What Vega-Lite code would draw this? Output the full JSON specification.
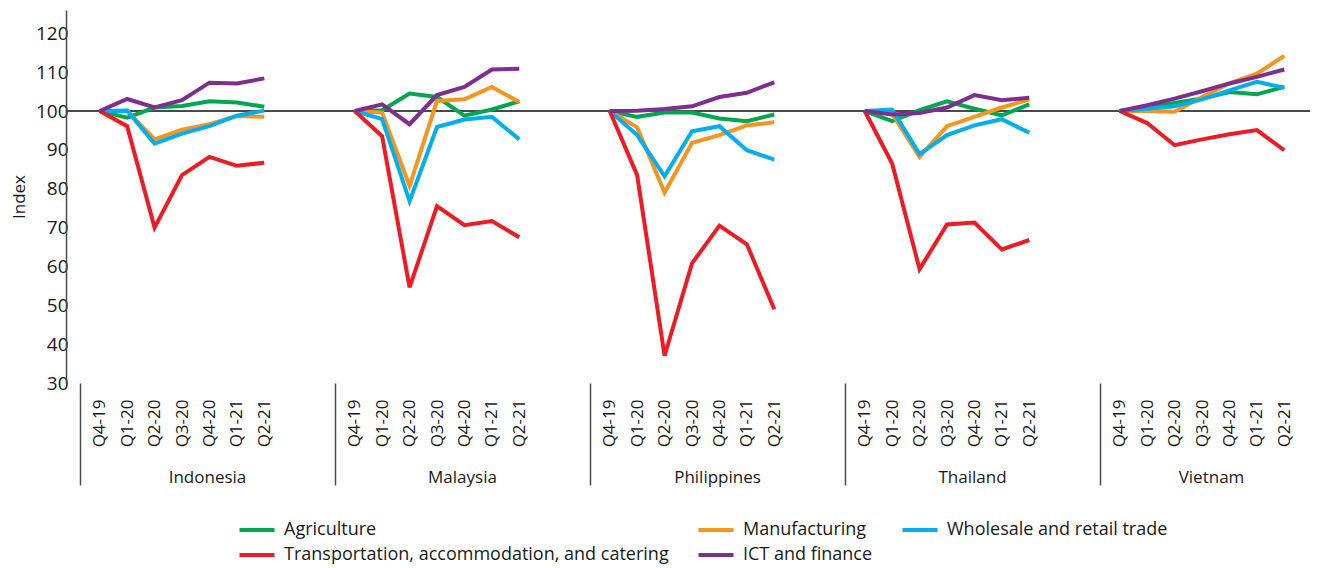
{
  "$schema": "https://vega.github.io/schema/vega-lite/v6.json",
  "padding": {"left": 10, "top": 10, "right": 0, "bottom": 0},
  "background": "white",
  "data": {"values": [
    {"country":"Indonesia","quarter":"Q4-19","sector":"Agriculture","value":100},
    {"country":"Indonesia","quarter":"Q1-20","sector":"Agriculture","value":98.3},
    {"country":"Indonesia","quarter":"Q2-20","sector":"Agriculture","value":100.9},
    {"country":"Indonesia","quarter":"Q3-20","sector":"Agriculture","value":101.3},
    {"country":"Indonesia","quarter":"Q4-20","sector":"Agriculture","value":102.5},
    {"country":"Indonesia","quarter":"Q1-21","sector":"Agriculture","value":102.2},
    {"country":"Indonesia","quarter":"Q2-21","sector":"Agriculture","value":101.1},
    {"country":"Indonesia","quarter":"Q4-19","sector":"Manufacturing","value":100},
    {"country":"Indonesia","quarter":"Q1-20","sector":"Manufacturing","value":100.0},
    {"country":"Indonesia","quarter":"Q2-20","sector":"Manufacturing","value":92.7},
    {"country":"Indonesia","quarter":"Q3-20","sector":"Manufacturing","value":95.2},
    {"country":"Indonesia","quarter":"Q4-20","sector":"Manufacturing","value":96.6},
    {"country":"Indonesia","quarter":"Q1-21","sector":"Manufacturing","value":98.7},
    {"country":"Indonesia","quarter":"Q2-21","sector":"Manufacturing","value":98.5},
    {"country":"Indonesia","quarter":"Q4-19","sector":"Wholesale and retail trade","value":100},
    {"country":"Indonesia","quarter":"Q1-20","sector":"Wholesale and retail trade","value":100.1},
    {"country":"Indonesia","quarter":"Q2-20","sector":"Wholesale and retail trade","value":91.6},
    {"country":"Indonesia","quarter":"Q3-20","sector":"Wholesale and retail trade","value":94.2},
    {"country":"Indonesia","quarter":"Q4-20","sector":"Wholesale and retail trade","value":96.1},
    {"country":"Indonesia","quarter":"Q1-21","sector":"Wholesale and retail trade","value":98.8},
    {"country":"Indonesia","quarter":"Q2-21","sector":"Wholesale and retail trade","value":100.1},
    {"country":"Indonesia","quarter":"Q4-19","sector":"Transportation, accommodation, and catering","value":100},
    {"country":"Indonesia","quarter":"Q1-20","sector":"Transportation, accommodation, and catering","value":96.1},
    {"country":"Indonesia","quarter":"Q2-20","sector":"Transportation, accommodation, and catering","value":70.0},
    {"country":"Indonesia","quarter":"Q3-20","sector":"Transportation, accommodation, and catering","value":83.5},
    {"country":"Indonesia","quarter":"Q4-20","sector":"Transportation, accommodation, and catering","value":88.2},
    {"country":"Indonesia","quarter":"Q1-21","sector":"Transportation, accommodation, and catering","value":85.9},
    {"country":"Indonesia","quarter":"Q2-21","sector":"Transportation, accommodation, and catering","value":86.7},
    {"country":"Indonesia","quarter":"Q4-19","sector":"ICT and finance","value":100},
    {"country":"Indonesia","quarter":"Q1-20","sector":"ICT and finance","value":103.1},
    {"country":"Indonesia","quarter":"Q2-20","sector":"ICT and finance","value":100.9},
    {"country":"Indonesia","quarter":"Q3-20","sector":"ICT and finance","value":102.8},
    {"country":"Indonesia","quarter":"Q4-20","sector":"ICT and finance","value":107.3},
    {"country":"Indonesia","quarter":"Q1-21","sector":"ICT and finance","value":107.1},
    {"country":"Indonesia","quarter":"Q2-21","sector":"ICT and finance","value":108.4},

    {"country":"Malaysia","quarter":"Q4-19","sector":"Agriculture","value":100},
    {"country":"Malaysia","quarter":"Q1-20","sector":"Agriculture","value":100.2},
    {"country":"Malaysia","quarter":"Q2-20","sector":"Agriculture","value":104.5},
    {"country":"Malaysia","quarter":"Q3-20","sector":"Agriculture","value":103.6},
    {"country":"Malaysia","quarter":"Q4-20","sector":"Agriculture","value":98.8},
    {"country":"Malaysia","quarter":"Q1-21","sector":"Agriculture","value":100.4},
    {"country":"Malaysia","quarter":"Q2-21","sector":"Agriculture","value":102.5},
    {"country":"Malaysia","quarter":"Q4-19","sector":"Manufacturing","value":100},
    {"country":"Malaysia","quarter":"Q1-20","sector":"Manufacturing","value":99.6},
    {"country":"Malaysia","quarter":"Q2-20","sector":"Manufacturing","value":80.7},
    {"country":"Malaysia","quarter":"Q3-20","sector":"Manufacturing","value":102.6},
    {"country":"Malaysia","quarter":"Q4-20","sector":"Manufacturing","value":103.0},
    {"country":"Malaysia","quarter":"Q1-21","sector":"Manufacturing","value":106.2},
    {"country":"Malaysia","quarter":"Q2-21","sector":"Manufacturing","value":102.3},
    {"country":"Malaysia","quarter":"Q4-19","sector":"Wholesale and retail trade","value":100},
    {"country":"Malaysia","quarter":"Q1-20","sector":"Wholesale and retail trade","value":97.9},
    {"country":"Malaysia","quarter":"Q2-20","sector":"Wholesale and retail trade","value":76.8},
    {"country":"Malaysia","quarter":"Q3-20","sector":"Wholesale and retail trade","value":95.9},
    {"country":"Malaysia","quarter":"Q4-20","sector":"Wholesale and retail trade","value":97.8},
    {"country":"Malaysia","quarter":"Q1-21","sector":"Wholesale and retail trade","value":98.5},
    {"country":"Malaysia","quarter":"Q2-21","sector":"Wholesale and retail trade","value":92.7},
    {"country":"Malaysia","quarter":"Q4-19","sector":"Transportation, accommodation, and catering","value":100},
    {"country":"Malaysia","quarter":"Q1-20","sector":"Transportation, accommodation, and catering","value":93.5},
    {"country":"Malaysia","quarter":"Q2-20","sector":"Transportation, accommodation, and catering","value":54.6},
    {"country":"Malaysia","quarter":"Q3-20","sector":"Transportation, accommodation, and catering","value":75.5},
    {"country":"Malaysia","quarter":"Q4-20","sector":"Transportation, accommodation, and catering","value":70.6},
    {"country":"Malaysia","quarter":"Q1-21","sector":"Transportation, accommodation, and catering","value":71.7},
    {"country":"Malaysia","quarter":"Q2-21","sector":"Transportation, accommodation, and catering","value":67.5},
    {"country":"Malaysia","quarter":"Q4-19","sector":"ICT and finance","value":100},
    {"country":"Malaysia","quarter":"Q1-20","sector":"ICT and finance","value":101.7},
    {"country":"Malaysia","quarter":"Q2-20","sector":"ICT and finance","value":96.6},
    {"country":"Malaysia","quarter":"Q3-20","sector":"ICT and finance","value":104.1},
    {"country":"Malaysia","quarter":"Q4-20","sector":"ICT and finance","value":106.2},
    {"country":"Malaysia","quarter":"Q1-21","sector":"ICT and finance","value":110.7},
    {"country":"Malaysia","quarter":"Q2-21","sector":"ICT and finance","value":110.9},

    {"country":"Philippines","quarter":"Q4-19","sector":"Agriculture","value":100},
    {"country":"Philippines","quarter":"Q1-20","sector":"Agriculture","value":98.5},
    {"country":"Philippines","quarter":"Q2-20","sector":"Agriculture","value":99.6},
    {"country":"Philippines","quarter":"Q3-20","sector":"Agriculture","value":99.6},
    {"country":"Philippines","quarter":"Q4-20","sector":"Agriculture","value":98.1},
    {"country":"Philippines","quarter":"Q1-21","sector":"Agriculture","value":97.4},
    {"country":"Philippines","quarter":"Q2-21","sector":"Agriculture","value":99.1},
    {"country":"Philippines","quarter":"Q4-19","sector":"Manufacturing","value":100},
    {"country":"Philippines","quarter":"Q1-20","sector":"Manufacturing","value":95.8},
    {"country":"Philippines","quarter":"Q2-20","sector":"Manufacturing","value":79.0},
    {"country":"Philippines","quarter":"Q3-20","sector":"Manufacturing","value":91.8},
    {"country":"Philippines","quarter":"Q4-20","sector":"Manufacturing","value":93.8},
    {"country":"Philippines","quarter":"Q1-21","sector":"Manufacturing","value":96.3},
    {"country":"Philippines","quarter":"Q2-21","sector":"Manufacturing","value":97.1},
    {"country":"Philippines","quarter":"Q4-19","sector":"Wholesale and retail trade","value":100},
    {"country":"Philippines","quarter":"Q1-20","sector":"Wholesale and retail trade","value":93.8},
    {"country":"Philippines","quarter":"Q2-20","sector":"Wholesale and retail trade","value":83.2},
    {"country":"Philippines","quarter":"Q3-20","sector":"Wholesale and retail trade","value":94.8},
    {"country":"Philippines","quarter":"Q4-20","sector":"Wholesale and retail trade","value":96.1},
    {"country":"Philippines","quarter":"Q1-21","sector":"Wholesale and retail trade","value":89.9},
    {"country":"Philippines","quarter":"Q2-21","sector":"Wholesale and retail trade","value":87.5},
    {"country":"Philippines","quarter":"Q4-19","sector":"Transportation, accommodation, and catering","value":100},
    {"country":"Philippines","quarter":"Q1-20","sector":"Transportation, accommodation, and catering","value":83.5},
    {"country":"Philippines","quarter":"Q2-20","sector":"Transportation, accommodation, and catering","value":37.0},
    {"country":"Philippines","quarter":"Q3-20","sector":"Transportation, accommodation, and catering","value":60.8},
    {"country":"Philippines","quarter":"Q4-20","sector":"Transportation, accommodation, and catering","value":70.5},
    {"country":"Philippines","quarter":"Q1-21","sector":"Transportation, accommodation, and catering","value":65.7},
    {"country":"Philippines","quarter":"Q2-21","sector":"Transportation, accommodation, and catering","value":49.0},
    {"country":"Philippines","quarter":"Q4-19","sector":"ICT and finance","value":100},
    {"country":"Philippines","quarter":"Q1-20","sector":"ICT and finance","value":100.1},
    {"country":"Philippines","quarter":"Q2-20","sector":"ICT and finance","value":100.5},
    {"country":"Philippines","quarter":"Q3-20","sector":"ICT and finance","value":101.2},
    {"country":"Philippines","quarter":"Q4-20","sector":"ICT and finance","value":103.6},
    {"country":"Philippines","quarter":"Q1-21","sector":"ICT and finance","value":104.7},
    {"country":"Philippines","quarter":"Q2-21","sector":"ICT and finance","value":107.4},

    {"country":"Thailand","quarter":"Q4-19","sector":"Agriculture","value":100},
    {"country":"Thailand","quarter":"Q1-20","sector":"Agriculture","value":97.4},
    {"country":"Thailand","quarter":"Q2-20","sector":"Agriculture","value":100.2},
    {"country":"Thailand","quarter":"Q3-20","sector":"Agriculture","value":102.5},
    {"country":"Thailand","quarter":"Q4-20","sector":"Agriculture","value":100.6},
    {"country":"Thailand","quarter":"Q1-21","sector":"Agriculture","value":98.9},
    {"country":"Thailand","quarter":"Q2-21","sector":"Agriculture","value":101.7},
    {"country":"Thailand","quarter":"Q4-19","sector":"Manufacturing","value":100},
    {"country":"Thailand","quarter":"Q1-20","sector":"Manufacturing","value":99.3},
    {"country":"Thailand","quarter":"Q2-20","sector":"Manufacturing","value":88.2},
    {"country":"Thailand","quarter":"Q3-20","sector":"Manufacturing","value":96.1},
    {"country":"Thailand","quarter":"Q4-20","sector":"Manufacturing","value":98.5},
    {"country":"Thailand","quarter":"Q1-21","sector":"Manufacturing","value":100.9},
    {"country":"Thailand","quarter":"Q2-21","sector":"Manufacturing","value":103.0},
    {"country":"Thailand","quarter":"Q4-19","sector":"Wholesale and retail trade","value":100},
    {"country":"Thailand","quarter":"Q1-20","sector":"Wholesale and retail trade","value":100.4},
    {"country":"Thailand","quarter":"Q2-20","sector":"Wholesale and retail trade","value":88.9},
    {"country":"Thailand","quarter":"Q3-20","sector":"Wholesale and retail trade","value":93.8},
    {"country":"Thailand","quarter":"Q4-20","sector":"Wholesale and retail trade","value":96.3},
    {"country":"Thailand","quarter":"Q1-21","sector":"Wholesale and retail trade","value":97.9},
    {"country":"Thailand","quarter":"Q2-21","sector":"Wholesale and retail trade","value":94.4},
    {"country":"Thailand","quarter":"Q4-19","sector":"Transportation, accommodation, and catering","value":100},
    {"country":"Thailand","quarter":"Q1-20","sector":"Transportation, accommodation, and catering","value":86.5},
    {"country":"Thailand","quarter":"Q2-20","sector":"Transportation, accommodation, and catering","value":59.3},
    {"country":"Thailand","quarter":"Q3-20","sector":"Transportation, accommodation, and catering","value":70.8},
    {"country":"Thailand","quarter":"Q4-20","sector":"Transportation, accommodation, and catering","value":71.3},
    {"country":"Thailand","quarter":"Q1-21","sector":"Transportation, accommodation, and catering","value":64.4},
    {"country":"Thailand","quarter":"Q2-21","sector":"Transportation, accommodation, and catering","value":66.8},
    {"country":"Thailand","quarter":"Q4-19","sector":"ICT and finance","value":100},
    {"country":"Thailand","quarter":"Q1-20","sector":"ICT and finance","value":99.1},
    {"country":"Thailand","quarter":"Q2-20","sector":"ICT and finance","value":99.5},
    {"country":"Thailand","quarter":"Q3-20","sector":"ICT and finance","value":100.9},
    {"country":"Thailand","quarter":"Q4-20","sector":"ICT and finance","value":104.1},
    {"country":"Thailand","quarter":"Q1-21","sector":"ICT and finance","value":102.8},
    {"country":"Thailand","quarter":"Q2-21","sector":"ICT and finance","value":103.4},

    {"country":"Vietnam","quarter":"Q4-19","sector":"Agriculture","value":100},
    {"country":"Vietnam","quarter":"Q1-20","sector":"Agriculture","value":100.9},
    {"country":"Vietnam","quarter":"Q2-20","sector":"Agriculture","value":102.1},
    {"country":"Vietnam","quarter":"Q3-20","sector":"Agriculture","value":103.2},
    {"country":"Vietnam","quarter":"Q4-20","sector":"Agriculture","value":104.9},
    {"country":"Vietnam","quarter":"Q1-21","sector":"Agriculture","value":104.3},
    {"country":"Vietnam","quarter":"Q2-21","sector":"Agriculture","value":106.2},
    {"country":"Vietnam","quarter":"Q4-19","sector":"Manufacturing","value":100},
    {"country":"Vietnam","quarter":"Q1-20","sector":"Manufacturing","value":100.0},
    {"country":"Vietnam","quarter":"Q2-20","sector":"Manufacturing","value":99.8},
    {"country":"Vietnam","quarter":"Q3-20","sector":"Manufacturing","value":103.6},
    {"country":"Vietnam","quarter":"Q4-20","sector":"Manufacturing","value":107.1},
    {"country":"Vietnam","quarter":"Q1-21","sector":"Manufacturing","value":109.6},
    {"country":"Vietnam","quarter":"Q2-21","sector":"Manufacturing","value":114.2},
    {"country":"Vietnam","quarter":"Q4-19","sector":"Wholesale and retail trade","value":100},
    {"country":"Vietnam","quarter":"Q1-20","sector":"Wholesale and retail trade","value":100.6},
    {"country":"Vietnam","quarter":"Q2-20","sector":"Wholesale and retail trade","value":101.2},
    {"country":"Vietnam","quarter":"Q3-20","sector":"Wholesale and retail trade","value":103.0},
    {"country":"Vietnam","quarter":"Q4-20","sector":"Wholesale and retail trade","value":105.3},
    {"country":"Vietnam","quarter":"Q1-21","sector":"Wholesale and retail trade","value":107.5},
    {"country":"Vietnam","quarter":"Q2-21","sector":"Wholesale and retail trade","value":106.0},
    {"country":"Vietnam","quarter":"Q4-19","sector":"Transportation, accommodation, and catering","value":100},
    {"country":"Vietnam","quarter":"Q1-20","sector":"Transportation, accommodation, and catering","value":96.9},
    {"country":"Vietnam","quarter":"Q2-20","sector":"Transportation, accommodation, and catering","value":91.2},
    {"country":"Vietnam","quarter":"Q3-20","sector":"Transportation, accommodation, and catering","value":92.7},
    {"country":"Vietnam","quarter":"Q4-20","sector":"Transportation, accommodation, and catering","value":94.0},
    {"country":"Vietnam","quarter":"Q1-21","sector":"Transportation, accommodation, and catering","value":95.1},
    {"country":"Vietnam","quarter":"Q2-21","sector":"Transportation, accommodation, and catering","value":89.9},
    {"country":"Vietnam","quarter":"Q4-19","sector":"ICT and finance","value":100},
    {"country":"Vietnam","quarter":"Q1-20","sector":"ICT and finance","value":101.5},
    {"country":"Vietnam","quarter":"Q2-20","sector":"ICT and finance","value":103.2},
    {"country":"Vietnam","quarter":"Q3-20","sector":"ICT and finance","value":105.1},
    {"country":"Vietnam","quarter":"Q4-20","sector":"ICT and finance","value":107.1},
    {"country":"Vietnam","quarter":"Q1-21","sector":"ICT and finance","value":108.8},
    {"country":"Vietnam","quarter":"Q2-21","sector":"ICT and finance","value":110.7}
  ]},
  "spacing": 0,
  "bounds": "flush",
  "resolve": {"scale": {"x": "independent", "y": "shared", "color": "shared"}, "legend": {"color": "shared"}},
  "hconcat": [
    {
      "width": 255, "height": 373,
      "transform": [{"filter": {"field": "country", "equal": "Indonesia"}}],
      "layer": [
        {"mark": {"type": "rule", "color": "#4a4a4a", "strokeWidth": 1.5},
         "encoding": {"y": {"datum": 100, "type": "quantitative", "scale": {"domain": [30, 126], "nice": false, "zero": false},
           "axis": {"title": "Index", "values": [30,40,50,60,70,80,90,100,110,120], "ticks": false, "domain": true, "domainColor": "#4a4a4a", "domainWidth": 1.5, "labelFontSize": 19, "labelPadding": -2, "titlePadding": 7}}}},
        {"mark": {"type": "line", "strokeWidth": 4, "clip": false},
         "encoding": {
           "x": {"field": "quarter", "type": "ordinal", "sort": ["Q4-19","Q1-20","Q2-20","Q3-20","Q4-20","Q1-21","Q2-21"],
             "scale": {"type": "point", "range": [20, 212]},
             "axis": {"title": "Indonesia", "labelAngle": -90, "domain": false, "tickSize": 102, "tickWidth": 1.5, "tickColor": "#4a4a4a",
               "tickOpacity": {"condition": {"test": "datum.value === 'Q4-19'", "value": 1}, "value": 0},
               "tickOffset": -20, "labelOffset": 20, "labelPadding": -86, "titlePadding": -16, "titleAnchor": "start", "titleX": 141, "titleAlign": "center"}},
           "y": {"field": "value", "type": "quantitative", "scale": {"domain": [30, 126], "nice": false, "zero": false},
             "axis": {"title": "Index", "values": [30,40,50,60,70,80,90,100,110,120], "ticks": false, "domain": true, "domainColor": "#4a4a4a", "domainWidth": 1.5, "labelFontSize": 19, "labelPadding": -2, "titlePadding": 7}},
           "color": {"field": "sector", "type": "nominal",
             "scale": {"domain": ["Agriculture","Manufacturing","Wholesale and retail trade","Transportation, accommodation, and catering","ICT and finance"],
                       "range": ["#00a650","#f7941d","#00aeef","#ed1c24","#7d2e8f"]}}
         }}
      ]
    },
    {
      "width": 255, "height": 373,
      "transform": [{"filter": {"field": "country", "equal": "Malaysia"}}],
      "layer": [
        {"mark": {"type": "rule", "color": "#4a4a4a", "strokeWidth": 1.5},
         "encoding": {"y": {"datum": 100, "type": "quantitative", "scale": {"domain": [30, 126], "nice": false, "zero": false}, "axis": null}}},
        {"mark": {"type": "line", "strokeWidth": 4, "clip": false},
         "encoding": {
           "x": {"field": "quarter", "type": "ordinal", "sort": ["Q4-19","Q1-20","Q2-20","Q3-20","Q4-20","Q1-21","Q2-21"],
             "scale": {"type": "point", "range": [20, 212]},
             "axis": {"title": "Malaysia", "labelAngle": -90, "domain": false, "tickSize": 102, "tickWidth": 1.5, "tickColor": "#4a4a4a",
               "tickOpacity": {"condition": {"test": "datum.value === 'Q4-19'", "value": 1}, "value": 0},
               "tickOffset": -20, "labelOffset": 20, "labelPadding": -86, "titlePadding": -16, "titleAnchor": "start", "titleX": 141, "titleAlign": "center"}},
           "y": {"field": "value", "type": "quantitative", "scale": {"domain": [30, 126], "nice": false, "zero": false}, "axis": null},
           "color": {"field": "sector", "type": "nominal",
             "scale": {"domain": ["Agriculture","Manufacturing","Wholesale and retail trade","Transportation, accommodation, and catering","ICT and finance"],
                       "range": ["#00a650","#f7941d","#00aeef","#ed1c24","#7d2e8f"]}}
         }}
      ]
    },
    {
      "width": 255, "height": 373,
      "transform": [{"filter": {"field": "country", "equal": "Philippines"}}],
      "layer": [
        {"mark": {"type": "rule", "color": "#4a4a4a", "strokeWidth": 1.5},
         "encoding": {"y": {"datum": 100, "type": "quantitative", "scale": {"domain": [30, 126], "nice": false, "zero": false}, "axis": null}}},
        {"mark": {"type": "line", "strokeWidth": 4, "clip": false},
         "encoding": {
           "x": {"field": "quarter", "type": "ordinal", "sort": ["Q4-19","Q1-20","Q2-20","Q3-20","Q4-20","Q1-21","Q2-21"],
             "scale": {"type": "point", "range": [20, 212]},
             "axis": {"title": "Philippines", "labelAngle": -90, "domain": false, "tickSize": 102, "tickWidth": 1.5, "tickColor": "#4a4a4a",
               "tickOpacity": {"condition": {"test": "datum.value === 'Q4-19'", "value": 1}, "value": 0},
               "tickOffset": -20, "labelOffset": 20, "labelPadding": -86, "titlePadding": -16, "titleAnchor": "start", "titleX": 141, "titleAlign": "center"}},
           "y": {"field": "value", "type": "quantitative", "scale": {"domain": [30, 126], "nice": false, "zero": false}, "axis": null},
           "color": {"field": "sector", "type": "nominal",
             "scale": {"domain": ["Agriculture","Manufacturing","Wholesale and retail trade","Transportation, accommodation, and catering","ICT and finance"],
                       "range": ["#00a650","#f7941d","#00aeef","#ed1c24","#7d2e8f"]}}
         }}
      ]
    },
    {
      "width": 255, "height": 373,
      "transform": [{"filter": {"field": "country", "equal": "Thailand"}}],
      "layer": [
        {"mark": {"type": "rule", "color": "#4a4a4a", "strokeWidth": 1.5},
         "encoding": {"y": {"datum": 100, "type": "quantitative", "scale": {"domain": [30, 126], "nice": false, "zero": false}, "axis": null}}},
        {"mark": {"type": "line", "strokeWidth": 4, "clip": false},
         "encoding": {
           "x": {"field": "quarter", "type": "ordinal", "sort": ["Q4-19","Q1-20","Q2-20","Q3-20","Q4-20","Q1-21","Q2-21"],
             "scale": {"type": "point", "range": [20, 212]},
             "axis": {"title": "Thailand", "labelAngle": -90, "domain": false, "tickSize": 102, "tickWidth": 1.5, "tickColor": "#4a4a4a",
               "tickOpacity": {"condition": {"test": "datum.value === 'Q4-19'", "value": 1}, "value": 0},
               "tickOffset": -20, "labelOffset": 20, "labelPadding": -86, "titlePadding": -16, "titleAnchor": "start", "titleX": 141, "titleAlign": "center"}},
           "y": {"field": "value", "type": "quantitative", "scale": {"domain": [30, 126], "nice": false, "zero": false}, "axis": null},
           "color": {"field": "sector", "type": "nominal",
             "scale": {"domain": ["Agriculture","Manufacturing","Wholesale and retail trade","Transportation, accommodation, and catering","ICT and finance"],
                       "range": ["#00a650","#f7941d","#00aeef","#ed1c24","#7d2e8f"]}}
         }}
      ]
    },
    {
      "width": 224, "height": 373,
      "transform": [{"filter": {"field": "country", "equal": "Vietnam"}}],
      "layer": [
        {"mark": {"type": "rule", "color": "#4a4a4a", "strokeWidth": 1.5},
         "encoding": {"y": {"datum": 100, "type": "quantitative", "scale": {"domain": [30, 126], "nice": false, "zero": false}, "axis": null}}},
        {"mark": {"type": "line", "strokeWidth": 4, "clip": false},
         "encoding": {
           "x": {"field": "quarter", "type": "ordinal", "sort": ["Q4-19","Q1-20","Q2-20","Q3-20","Q4-20","Q1-21","Q2-21"],
             "scale": {"type": "point", "range": [20, 212]},
             "axis": {"title": "Vietnam", "labelAngle": -90, "domain": false, "tickSize": 102, "tickWidth": 1.5, "tickColor": "#4a4a4a",
               "tickOpacity": {"condition": {"test": "datum.value === 'Q4-19'", "value": 1}, "value": 0},
               "tickOffset": -20, "labelOffset": 20, "labelPadding": -86, "titlePadding": -16, "titleAnchor": "start", "titleX": 125, "titleAlign": "center"}},
           "y": {"field": "value", "type": "quantitative", "scale": {"domain": [30, 126], "nice": false, "zero": false}, "axis": null},
           "color": {"field": "sector", "type": "nominal",
             "scale": {"domain": ["Agriculture","Manufacturing","Wholesale and retail trade","Transportation, accommodation, and catering","ICT and finance"],
                       "range": ["#00a650","#f7941d","#00aeef","#ed1c24","#7d2e8f"]}}
         }}
      ]
    }
  ],
  "config": {
    "view": {"stroke": null},
    "font": "Open Sans",
    "axis": {"grid": false, "labelFont": "Open Sans", "titleFont": "Open Sans", "labelFontSize": 17, "titleFontSize": 17, "titleFontWeight": "normal", "labelColor": "#1a1a1a", "titleColor": "#1a1a1a"},
    "legend": {"orient": "none", "legendX": 182, "legendY": 511, "direction": "horizontal", "columns": 3, "title": null,
      "symbolType": "M-2.5,0H2.5", "symbolSize": 196, "symbolStrokeWidth": 4, "symbolFillColor": "transparent", "labelFont": "Open Sans", "labelFontSize": 18, "labelColor": "#1a1a1a",
      "labelOffset": 18, "rowPadding": 7, "columnPadding": 21, "labelLimit": 600}
  }
}
